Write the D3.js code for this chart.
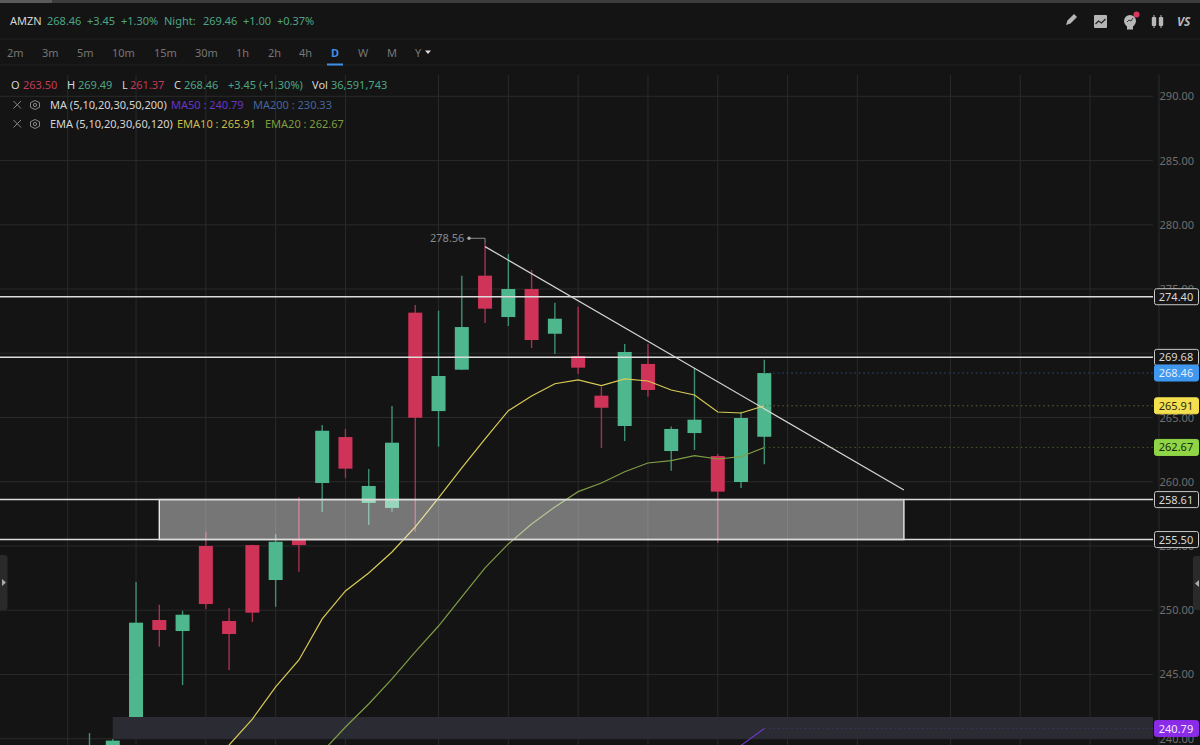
<!DOCTYPE html>
<html><head><meta charset="utf-8">
<style>html,body{margin:0;padding:0;background:#141414;overflow:hidden}svg{display:block}text{font-family:"Noto Sans",sans-serif}</style>
<script src="https://cdn.jsdelivr.net/npm/d3@7"></script></head><body>
<svg id="c" width="1200" height="745"></svg>
<script>
const opens  =[238,238,241.69,249.24,248.38,255.0,249.16,255.07,252.35,255.47,259.9,263.48,258.35,257.96,273.16,265.5,268.72,276.04,272.82,275.0,271.52,269.79,266.7,264.34,269.17,262.39,263.79,262.0,259.98,263.5];
const highs  =[240.44,239.98,252.2,250.43,249.96,256.11,250.17,255.1,255.93,258.81,264.42,264.11,260.99,265.9,273.76,273.31,276.04,278.56,277.73,276.48,273.94,273.62,267.4,270.72,270.72,264.29,268.85,262.16,265.45,269.49];
const lows   =[237,237,241.69,247.16,244.18,250.09,245.35,249.08,250.27,253.0,257.65,260.29,256.64,257.67,256.11,262.73,268.72,272.35,272.12,270.41,269.94,268.39,262.63,263.17,266.62,260.86,262.47,255.23,259.51,261.37];
const closes =[239.0,239.85,249.03,248.46,249.65,250.48,248.15,249.81,255.33,255.07,263.97,261.02,259.67,263.04,264.98,268.23,272.04,273.47,275.0,271.03,272.69,268.88,265.76,270.1,267.14,264.11,264.83,259.23,264.96,268.46];
const ema10Start=5;
const ema10=[237.57,239.51,241.53,244.03,246.13,249.32,251.5,252.9,254.53,256.48,258.74,261.07,263.33,265.53,266.67,267.63,267.92,267.48,268.0,267.84,267.14,266.75,265.43,265.35,265.91];
const ema20Start=10;
const ema20=[238.97,240.91,242.7,244.65,246.75,248.77,251.03,253.29,255.16,256.71,258.04,259.23,259.9,260.78,261.46,261.64,262.03,261.77,261.95,262.67];
const ma50Start=27;
const ma50=[238.2,239.48,240.79];
const priceTicks=[290,285,280,275,270,265,260,255,250,245,240];
const gridIdx=[-1,2,5,8,11,15,18,21,24,27,30,33,37,40,43];
const hLevels=[274.40,269.68,258.61,255.50];
const upperZone=[3,35,258.61,255.50];
const lowerZone=[1,241.69,239.98];
const trend=[[17,278.3],[35,259.36]];
const peak=278.56, peakIdx=17;
const frames=[["2m",7],["3m",42],["5m",77],["10m",112],["15m",154],["30m",195],["1h",236],["2h",268],["4h",299],["D",331],["W",358],["M",387],["Y",415]];

const PLOT_R=1153, AXIS_X=1159, TOP=75;
const svg=d3.select("#c");
const x=d3.scaleLinear().domain([0,29]).range([89.5,764.3]);
const y=d3.scaleLinear().domain([290,240]).range([96.3,738.7]);
const UP="#4fb78e",DN="#d03358",UPW="#3f8f72",DNW="#a8304f";
svg.append("rect").attr("width",1200).attr("height",745).attr("fill","#141414");
svg.append("rect").attr("width",1200).attr("height",3).attr("fill","#3c3c3c");
svg.append("rect").attr("width",52).attr("height",3).attr("fill","#5a5a5a");
[39,65].forEach(v=>svg.append("line").attr("x1",0).attr("x2",1200).attr("y1",v).attr("y2",v).attr("stroke","#202020"));

const grid=svg.append("g").attr("stroke","#2a2a2a").attr("stroke-width",1);
grid.selectAll(".v").data(gridIdx).join("line").attr("x1",d=>x(d)+(d<0?1.5:0)).attr("x2",d=>x(d)+(d<0?1.5:0)).attr("y1",TOP).attr("y2",745);
grid.append("line").attr("x1",AXIS_X).attr("x2",AXIS_X).attr("y1",TOP).attr("y2",745);
grid.selectAll(".h").data(priceTicks).join("line").attr("x1",0).attr("x2",PLOT_R).attr("y1",d=>y(d)).attr("y2",d=>y(d));
svg.append("g").selectAll("text").data(priceTicks).join("text").attr("x",1194).attr("y",d=>y(d)+4)
  .attr("text-anchor","end").attr("font-size",11).attr("fill","#6f6f6f").text(d=>d.toFixed(2));

svg.append("rect").attr("x",x(lowerZone[0])).attr("y",y(lowerZone[1])).attr("width",PLOT_R-x(lowerZone[0])).attr("height",y(lowerZone[2])-y(lowerZone[1])).attr("fill","#2b2c33");

const idx=d3.range(closes.length);
const g=svg.append("g");
g.selectAll(".w").data(idx).join("line").attr("x1",i=>x(i)).attr("x2",i=>x(i)).attr("y1",i=>y(highs[i])).attr("y2",i=>y(lows[i]))
  .attr("stroke",i=>closes[i]>=opens[i]?UPW:DNW).attr("stroke-width",1.4);
g.selectAll(".b").data(idx).join("rect").attr("x",i=>x(i)-7).attr("width",14)
  .attr("y",i=>y(Math.max(opens[i],closes[i]))).attr("height",i=>Math.abs(y(opens[i])-y(closes[i])))
  .attr("fill",i=>closes[i]>=opens[i]?UP:DN);

const line=start=>d3.line().x((d,i)=>x(i+start)).y(d=>y(d));
svg.append("path").attr("d",line(ema20Start)(ema20)).attr("fill","none").attr("stroke","#7f9d45").attr("stroke-width",1.2);
svg.append("path").attr("d",line(ema10Start)(ema10)).attr("fill","none").attr("stroke","#d8cb55").attr("stroke-width",1.2);
svg.append("path").attr("d",line(ma50Start)(ma50)).attr("fill","none").attr("stroke","#6f35c8").attr("stroke-width",1.2);

const lastX=x(closes.length-1);
[[closes[29],"#2b5078"],[ema10[ema10.length-1],"#6b6330"],[ema20[ema20.length-1],"#46602a"],[ma50[2],"#3d3568"]].forEach(([v,c])=>
  svg.append("line").attr("x1",lastX).attr("x2",PLOT_R).attr("y1",y(v)).attr("y2",y(v)).attr("stroke",c).attr("stroke-dasharray","1.5 3"));

svg.append("rect").attr("x",x(upperZone[0])).attr("y",y(upperZone[2])).attr("width",x(upperZone[1])-x(upperZone[0])).attr("height",y(upperZone[3])-y(upperZone[2]))
  .attr("fill","#fff").attr("fill-opacity",.42).attr("stroke","#e8e8e8").attr("stroke-width",1.4);
svg.append("g").selectAll("line").data(hLevels).join("line").attr("x1",0).attr("x2",PLOT_R).attr("y1",d=>y(d)).attr("y2",d=>y(d)).attr("stroke","#dcdcdc").attr("stroke-width",1.5);

svg.append("line").attr("x1",x(trend[0][0])).attr("y1",y(trend[0][1])).attr("x2",x(trend[1][0])).attr("y2",y(trend[1][1])).attr("stroke","#d5d5d5").attr("stroke-width",1.2);

const py=y(peak)-5;
svg.append("path").attr("d",`M469 ${py}H${x(peakIdx)}V${y(peak)}`).attr("fill","none").attr("stroke","#8a8a8a");
svg.append("circle").attr("cx",469).attr("cy",py).attr("r",1.7).attr("fill","#aaa");
svg.append("text").attr("x",430).attr("y",py+4).attr("font-size",11).attr("fill","#8a8a8a").text(peak.toFixed(2));

function tag(v,fill,stroke,tc){
  const t=svg.append("g").attr("transform",`translate(0,${y(v)})`);
  t.append("rect").attr("x",1154.5).attr("y",-8).attr("width",44).attr("height",16).attr("rx",2).attr("fill",fill).attr("stroke",stroke).attr("stroke-width",1);
  t.append("text").attr("x",1176).attr("y",4).attr("text-anchor","middle").attr("font-size",11).attr("fill",tc).text(v.toFixed(2));
}
hLevels.forEach(v=>tag(v,"#161616","#c8c8c8","#d8d8d8"));
tag(closes[29],"#3f97ee","#3f97ee","#e4f0ff");
tag(ema10[ema10.length-1],"#f4e04f","#f4e04f","#2a2a10");
tag(ema20[ema20.length-1],"#90d546","#90d546","#18280a");
tag(ma50[2],"#8a2be8","#8a2be8","#f3e8ff");

function t(s,px,py,c,fs,anchor,fw){svg.append("text").attr("x",px).attr("y",py).attr("fill",c).attr("font-size",fs||11).attr("text-anchor",anchor||"start").attr("font-weight",fw||400).text(s);}
const G="#4ea585",W="#d6d6d6",R="#c23a58";
t("AMZN",10,25,W);t("268.46",47,25,G);t("+3.45",87,25,G);t("+1.30%",121,25,G);t("Night:",164,25,G);t("269.46",203,25,G);t("+1.00",243,25,G);t("+0.37%",277,25,G);
frames.forEach(([s,px])=>t(s,px,56.5,s==="D"?"#3f8fe8":"#777",11,"start",s==="D"?700:400));
svg.append("rect").attr("x",327).attr("y",63.5).attr("width",16).attr("height",2).attr("fill","#3f8fe8");
svg.append("path").attr("d","M425 50.5h6l-3 3.5z").attr("fill","#ddd");
t("O",11,89,W);t("263.50",23,89,R);t("H",67,89,W);t("269.49",78,89,G);t("L",122,89,W);t("261.37",130,89,R);t("C",174,89,W);t("268.46",184,89,G);t("+3.45 (+1.30%)",228,89,G);t("Vol",312,89,W);t("36,591,743",331,89,G);
t("MA (5,10,20,30,50,200)",50,109,W);t("MA50 : 240.79",171,109,"#6a35c4");t("MA200 : 230.33",253,109,"#44659f");
t("EMA (5,10,20,30,60,120)",50,128,W);t("EMA10 : 265.91",177,128,"#c9bd4a");t("EMA20 : 262.67",265,128,"#7f9d3f");
[105,124].forEach(v=>{
  svg.append("path").attr("d",`M13.5 ${v-4}l7.5 7.5M21 ${v-4}l-7.5 7.5`).attr("stroke","#888").attr("fill","none");
  svg.append("path").attr("d",`M35 ${v-4.5}l4.5 2.2v4.6l-4.5 2.2l-4.5-2.2v-4.6z`).attr("stroke","#888").attr("fill","none");
  svg.append("circle").attr("cx",35).attr("cy",v).attr("r",1.6).attr("stroke","#888").attr("fill","none");
});

const ic=svg.append("g");
ic.append("path").attr("d","M1066 25l1.5-4.5l6.5-6.5l3 3l-6.5 6.5z").attr("fill","#b5b5b5");
ic.append("rect").attr("x",1094).attr("y",15).attr("width",13).attr("height",13).attr("rx",1).attr("fill","#b5b5b5");
ic.append("path").attr("d","M1095.5 24l3-3l3 2l4-4").attr("fill","none").attr("stroke","#222").attr("stroke-width",1.3);
ic.append("circle").attr("cx",1130).attr("cy",21).attr("r",6).attr("fill","#b8b8b8");
ic.append("rect").attr("x",1127).attr("y",26).attr("width",6).attr("height",3.5).attr("fill","#b8b8b8");
ic.append("path").attr("d","M1127 22l2-2l2 1l2-3").attr("fill","none").attr("stroke","#333");
ic.append("circle").attr("cx",1136.5).attr("cy",14.5).attr("r",3).attr("fill","#d9375c");
[1154,1161].forEach(px=>{
  ic.append("rect").attr("x",px-2.2).attr("y",17).attr("width",4.4).attr("height",9).attr("rx",1).attr("fill","#b8b8b8");
  ic.append("line").attr("x1",px).attr("x2",px).attr("y1",15).attr("y2",28).attr("stroke","#b8b8b8");
});
svg.append("text").attr("x",1177).attr("y",26).attr("font-size",12).attr("font-weight",700).attr("font-style","italic").attr("fill","#b8b8b8").text("VS");

svg.append("rect").attr("x",-4).attr("y",555).attr("width",11.5).attr("height",55).attr("rx",3).attr("fill","#2a2a2a");
svg.append("path").attr("d","M2 579v7l4-3.5z").attr("fill","#aaa");
svg.append("rect").attr("x",1193).attr("y",556).attr("width",12).attr("height",54).attr("rx",3).attr("fill","#2a2a2a");
svg.append("path").attr("d","M1199 580v7l-4-3.5z").attr("fill","#aaa");
</script></body></html>
